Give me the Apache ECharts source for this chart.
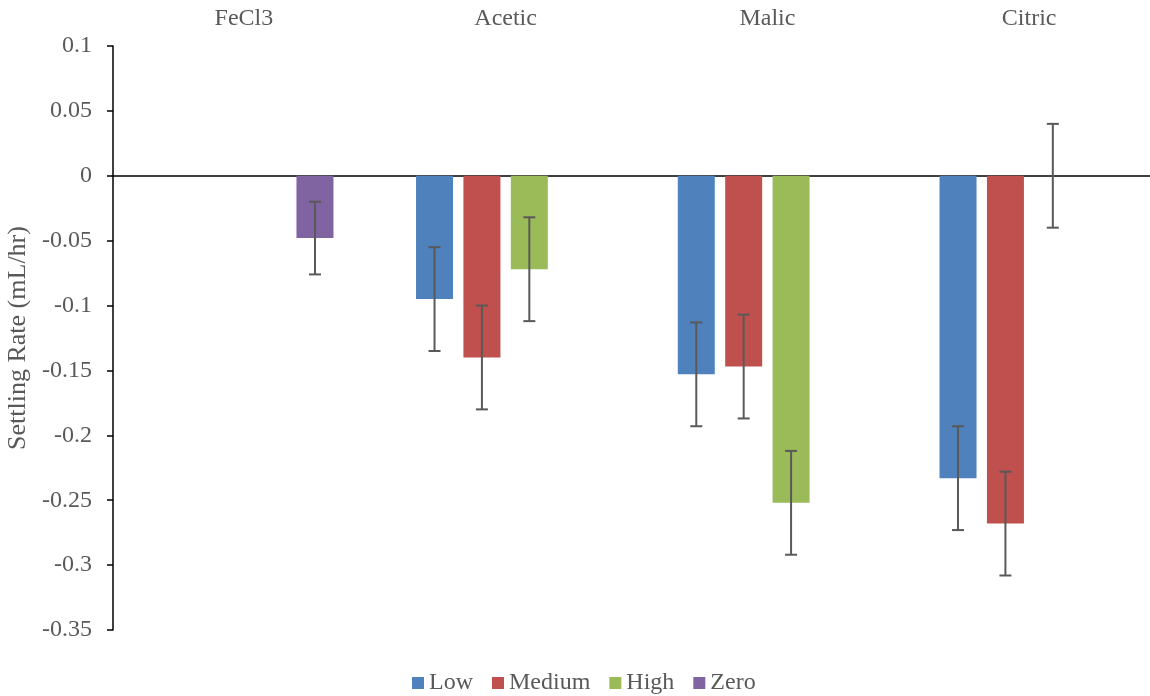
<!DOCTYPE html>
<html>
<head>
<meta charset="utf-8">
<script src="https://cdn.jsdelivr.net/npm/echarts@6/dist/echarts.min.js"></script>
<style>
  html, body { margin: 0; padding: 0; background: #fff; }
  #chart { width: 1150px; height: 696px; }
</style>
</head>
<body>
<div id="chart"></div>
<script>
// categories and series
const categories = ["FeCl3", "Acetic", "Malic", "Citric"];
const seriesNames = ["Low", "Medium", "High", "Zero"];
const lowValues = [null, -0.095, -0.153, -0.233];
const mediumValues = [null, -0.140, -0.147, -0.268];
const highValues = [null, -0.072, -0.252, 0];
const zeroValues = [-0.048, null, null, null];
// error bar half widths (same order as values)
const lowErr = [null, 0.04, 0.04, 0.04];
const mediumErr = [null, 0.04, 0.04, 0.04];
const highErr = [null, 0.04, 0.04, 0.04];
const zeroErr = [0.028, null, null, null];
const yTicks = { min: -0.35, max: 0.1, step: 0.05 };

const colors = ["#4F81BD", "#C0504D", "#9BBB59", "#8064A2"];
const font = '"Liberation Serif", "Times New Roman", serif';
const textColor = "#595959";
const barWidth = 37;
const barGapPx = 10.4;

const allValues = [lowValues, mediumValues, highValues, zeroValues];
const allErr = [lowErr, mediumErr, highErr, zeroErr];

// build error bar data: [categoryIndex, seriesIndex, value, err]
const errData = [];
allValues.forEach((vals, s) => {
  vals.forEach((v, c) => {
    if (v !== null && allErr[s][c] !== null) {
      errData.push([c, s, v, allErr[s][c]]);
    }
  });
});

const chart = echarts.init(document.getElementById("chart"));

const barSeries = seriesNames.map((name, i) => ({
  name: name,
  type: "bar",
  data: allValues[i],
  barWidth: barWidth,
  barGap: (barGapPx / barWidth * 100).toFixed(1) + "%",
  itemStyle: { color: colors[i] },
  xAxisIndex: 0,
}));

const option = {
  animation: false,
  textStyle: { fontFamily: font },
  color: colors,
  // plot runs a little past the right edge, like the original
  grid: { left: 113, width: 1047, top: 46, bottom: 66, outerBoundsMode: "none", containLabel: false },
  legend: {
    top: 666,
    left: 407,
    icon: "rect",
    itemWidth: 12,
    itemHeight: 12,
    itemGap: 19,
    data: seriesNames,
    textStyle: { fontFamily: font, fontSize: 24, color: textColor },
  },
  xAxis: [
    {
      type: "category",
      data: categories,
      axisLine: { onZero: true, lineStyle: { color: "#000", width: 1.5 } },
      axisTick: { show: false },
      axisLabel: { show: false },
    },
    {
      type: "category",
      data: categories,
      position: "top",
      axisLine: { show: false },
      axisTick: { show: false },
      axisLabel: { fontFamily: font, fontSize: 24, color: textColor, margin: 15 },
    },
  ],
  yAxis: {
    type: "value",
    min: yTicks.min,
    max: yTicks.max,
    interval: yTicks.step,
    name: "Settling Rate (mL/hr)",
    nameLocation: "middle",
    nameGap: 75,
    nameTextStyle: { fontFamily: font, fontSize: 26, color: textColor },
    axisLine: { show: true, lineStyle: { color: "#000", width: 1.5 } },
    axisTick: { show: true, length: 6, lineStyle: { color: "#000", width: 1.5 } },
    splitLine: { show: false },
    axisLabel: {
      fontFamily: font,
      fontSize: 24,
      color: textColor,
      margin: 21,
      formatter: (v) => String(Math.round(v * 100) / 100),
    },
  },
  series: [
    ...barSeries,
    {
      type: "custom",
      name: "errors",
      xAxisIndex: 0,
      z: 5,
      data: errData,
      renderItem: function (params, api) {
        const c = api.value(0);
        const s = api.value(1);
        const v = api.value(2);
        const e = api.value(3);
        const step = barWidth + barGapPx;
        const offset = (s - 1.5) * step;
        const top = api.coord([c, v + e]);
        const bot = api.coord([c, v - e]);
        const x = top[0] + offset;
        const cap = 6;
        const style = { stroke: "#595959", lineWidth: 2 };
        return {
          type: "group",
          children: [
            { type: "line", shape: { x1: x, y1: top[1], x2: x, y2: bot[1] }, style: style },
            { type: "line", shape: { x1: x - cap, y1: top[1], x2: x + cap, y2: top[1] }, style: style },
            { type: "line", shape: { x1: x - cap, y1: bot[1], x2: x + cap, y2: bot[1] }, style: style },
          ],
        };
      },
    },
  ],
};

chart.setOption(option);
</script>
</body>
</html>
